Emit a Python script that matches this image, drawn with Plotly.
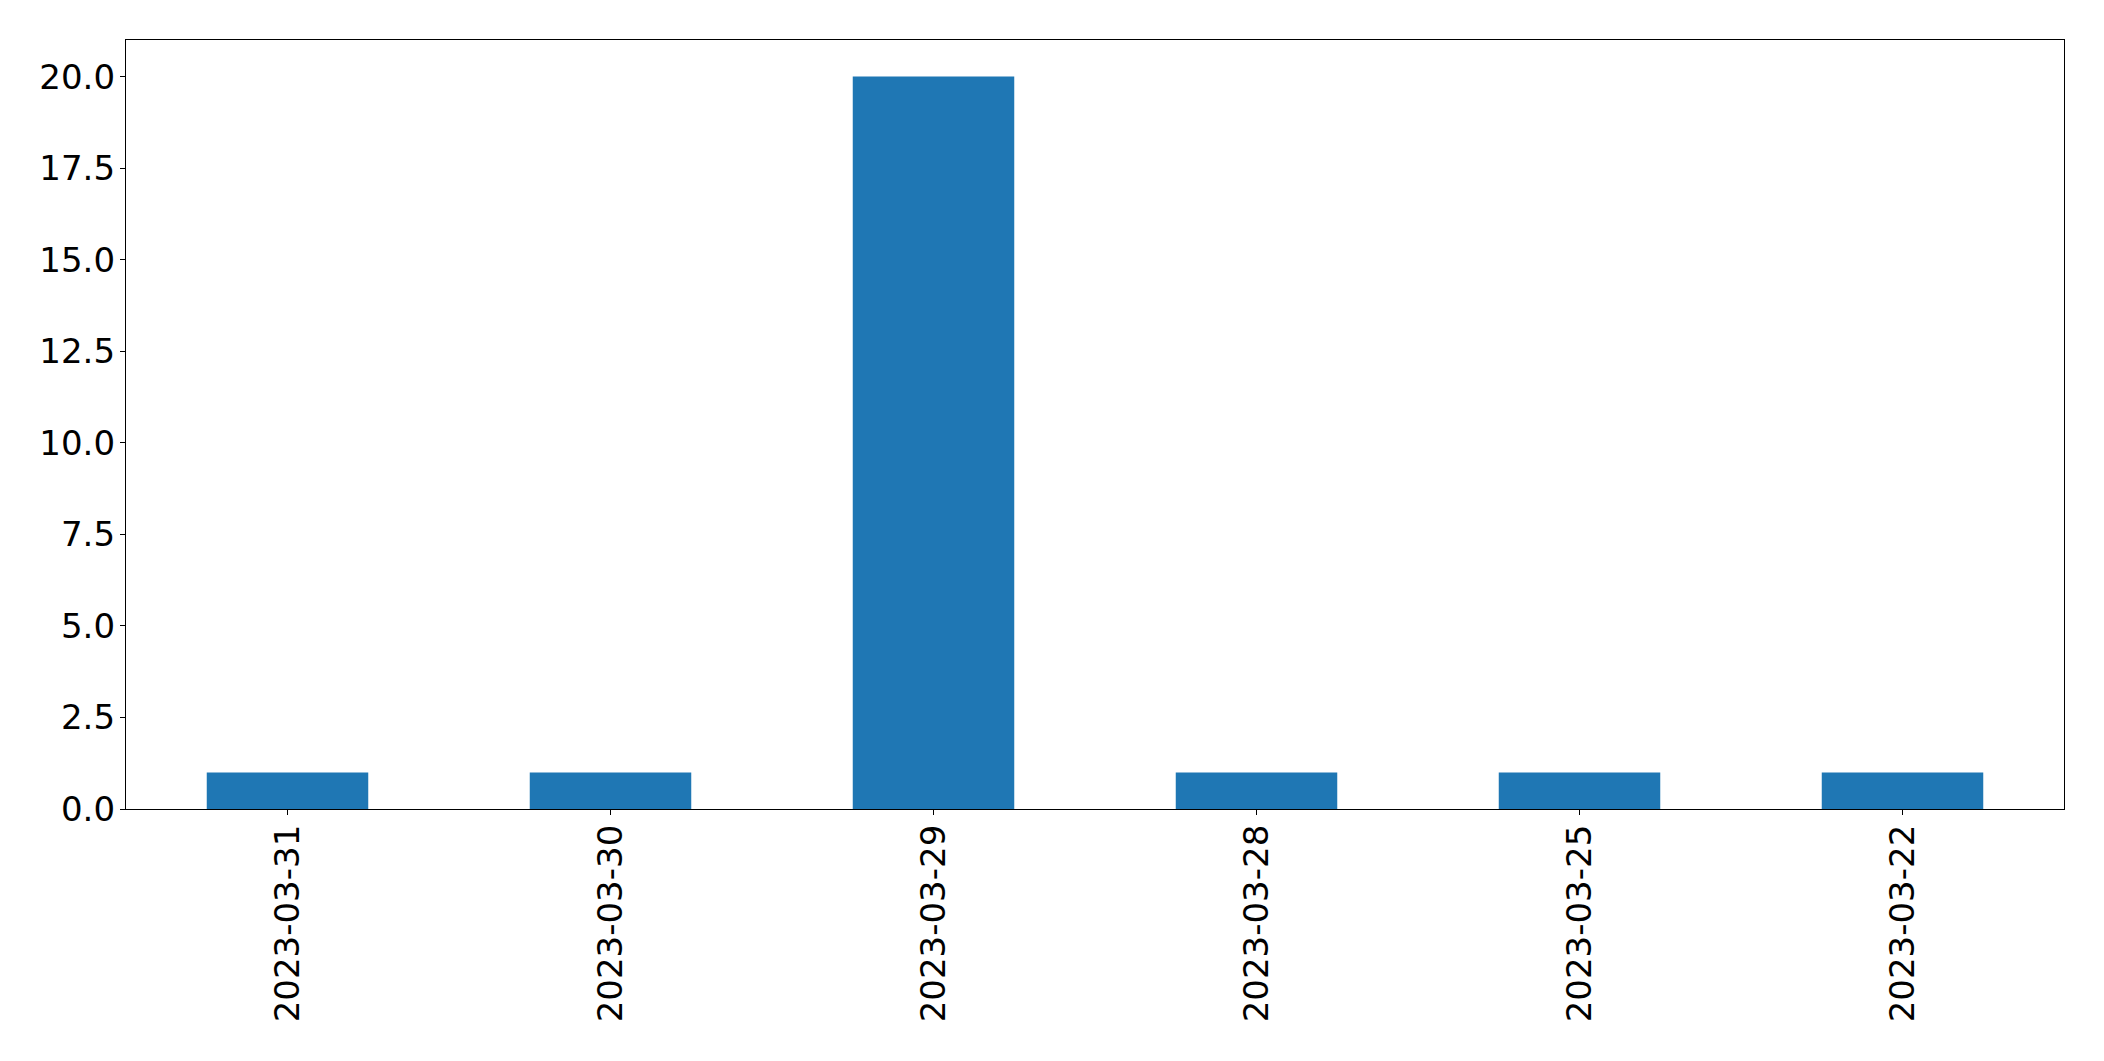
import plotly.graph_objects as go

categories = ["2023-03-31", "2023-03-30", "2023-03-29", "2023-03-28", "2023-03-25", "2023-03-22"]
values = [1, 1, 20, 1, 1, 1]
y_ticks = [0, 2.5, 5, 7.5, 10, 12.5, 15, 17.5, 20]
y_tick_labels = [f"{v:.1f}" for v in y_ticks]

fig = go.Figure(go.Bar(x=categories, y=values, marker=dict(color="#1f77b4", line=dict(width=0))))

axis_common = dict(
    showline=True, linecolor="black", linewidth=1.3, mirror=True,
    ticks="outside", ticklen=5, tickwidth=1.3, tickcolor="black",
    showgrid=False, zeroline=False,
    tickfont=dict(family="DejaVu Sans", size=34, color="black"),
)

fig.update_layout(
    width=2104, height=1061,
    margin=dict(l=118, r=48, t=32, b=260),
    paper_bgcolor="white", plot_bgcolor="white",
    bargap=0.5,
    showlegend=False,
    xaxis=dict(type="category", range=[-0.5, 5.5], tickangle=-90, ticklabelstandoff=-4, **axis_common),
    yaxis=dict(range=[0, 21], tickvals=y_ticks, ticktext=y_tick_labels, ticklabelstandoff=-2, **axis_common),
)

fig.write_html("out.html")
